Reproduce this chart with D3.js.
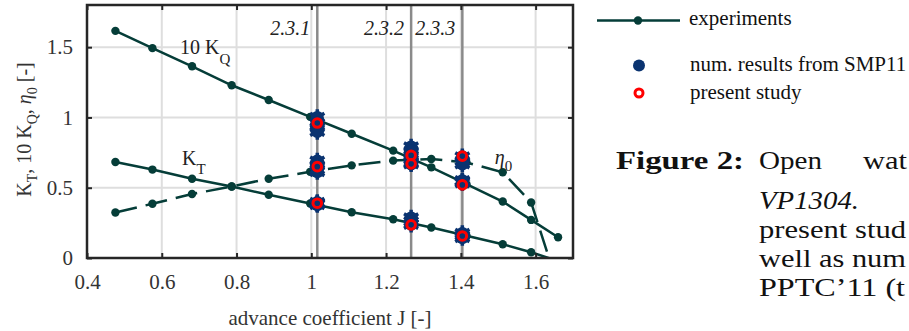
<!DOCTYPE html>
<html>
<head>
<meta charset="utf-8">
<script src="https://cdn.jsdelivr.net/npm/d3@7"></script>
<style>
  body { margin: 0; background: #fff; }
  svg { display: block; font-family: "Liberation Serif", "Times New Roman", serif; }
</style>
</head>
<body>
<div id="chart"></div>
<script>
// experiments (open water test)
const expJ    = [0.476, 0.575, 0.681, 0.787, 0.886, 0.997, 1.108, 1.219, 1.321, 1.415, 1.512, 1.588, 1.660];
const expKT   = [0.683, 0.629, 0.564, 0.509, 0.450, 0.388, 0.326, 0.276, 0.217, 0.158, 0.098, 0.041, -0.022];
const expKQ10 = [1.616, 1.493, 1.364, 1.229, 1.124, 1.004, 0.884, 0.764, 0.645, 0.525, 0.402, 0.271, 0.148];
const expEta  = [0.324, 0.386, 0.455, 0.509, 0.564, 0.613, 0.659, 0.693, 0.705, 0.680, 0.610, 0.395, -0.200];

// num. results from SMP11 (several participants per J)
const smpJ    = [1.016, 1.016, 1.016, 1.016, 1.267, 1.267, 1.267, 1.404, 1.404, 1.404];
const smpKT   = [0.395, 0.380, 0.385, 0.390, 0.285, 0.260, 0.240, 0.175, 0.160, 0.145];
const smpKQ10 = [1.000, 0.960, 0.930, 0.900, 0.790, 0.760, 0.730, 0.550, 0.535, 0.545];
const smpEta  = [0.690, 0.660, 0.630, 0.615, 0.700, 0.680, 0.670, 0.720, 0.690, 0.670];

// present study
const presJ    = [1.016, 1.267, 1.404];
const presKT   = [0.390, 0.236, 0.157];
const presKQ10 = [0.960, 0.730, 0.520];
const presEta  = [0.650, 0.670, 0.725];

// test cases marked in the plot
const caseJ      = [1.016, 1.267, 1.404];
const caseLabels = ["2.3.1", "2.3.2", "2.3.3"];

const xTicks = [0.4, 0.6, 0.8, 1, 1.2, 1.4, 1.6];
const yTicks = [0, 0.5, 1, 1.5];

const W = 909, H = 331;
const margin = { top: 5, left: 87, right: 336, bottom: 73 };
const width = W - margin.left - margin.right;
const height = H - margin.top - margin.bottom;

const expColor = "#053d38";
const smpColor = "#0a3370";
const presColor = "#ff0000";

const svg = d3.select("#chart").append("svg")
    .attr("width", W)
    .attr("height", H);

svg.append("defs").append("clipPath").attr("id", "plotclip")
    .append("rect").attr("width", width).attr("height", height);

const g = svg.append("g")
    .attr("transform", `translate(${margin.left},${margin.top})`);

const x = d3.scaleLinear().domain([0.4, 1.7]).range([0, width]);
const y = d3.scaleLinear().domain([0, 1.8]).range([height, 0]);

// grid
g.append("g").selectAll("line").data(xTicks.slice(1)).enter().append("line")
    .attr("x1", d => x(d)).attr("x2", d => x(d))
    .attr("y1", 0).attr("y2", height)
    .attr("stroke", "#dedede").attr("stroke-width", 2);
g.append("g").selectAll("line").data(yTicks.slice(1)).enter().append("line")
    .attr("x1", 0).attr("x2", width)
    .attr("y1", d => y(d)).attr("y2", d => y(d))
    .attr("stroke", "#dedede").attr("stroke-width", 2);

// test case lines
g.append("g").selectAll("line").data(caseJ).enter().append("line")
    .attr("x1", d => x(d)).attr("x2", d => x(d))
    .attr("y1", 0).attr("y2", height)
    .attr("stroke", "#8a8a8a").attr("stroke-width", 2.5);

g.append("g").selectAll("text").data(caseJ).enter().append("text")
    .attr("x", d => x(d) - 7)
    .attr("y", 30)
    .attr("text-anchor", "end")
    .attr("font-style", "italic")
    .attr("font-size", 20)
    .attr("fill", "#222")
    .text((d, i) => caseLabels[i]);

// experiment curves
const plot = g.append("g").attr("clip-path", "url(#plotclip)");

function expCurve(vals, dash) {
  const pts = expJ.map((j, i) => [j, vals[i]]);
  plot.append("path")
      .datum(pts)
      .attr("fill", "none")
      .attr("stroke", expColor)
      .attr("stroke-width", 2.5)
      .attr("stroke-dasharray", dash)
      .attr("d", d3.line().x(d => x(d[0])).y(d => y(d[1])));
  plot.append("g").selectAll("circle").data(pts).enter().append("circle")
      .attr("cx", d => x(d[0]))
      .attr("cy", d => y(d[1]))
      .attr("r", 4.2)
      .attr("fill", expColor);
}
expCurve(expKQ10, null);
expCurve(expKT, null);
expCurve(expEta, "22,9");

// SMP11 results: filled dots with a spiky outline, several overlapping
const spike = d3.symbol().type(d3.symbolAsterisk).size(190);
[smpKT, smpKQ10, smpEta].forEach(vals => {
  const grp = plot.append("g");
  grp.selectAll("path").data(vals).enter().append("path")
      .attr("transform", (d, i) => `translate(${x(smpJ[i])},${y(d)})`)
      .attr("d", spike)
      .attr("fill", "none")
      .attr("stroke", smpColor)
      .attr("stroke-width", 3.5);
  grp.selectAll("circle").data(vals).enter().append("circle")
      .attr("cx", (d, i) => x(smpJ[i]))
      .attr("cy", d => y(d))
      .attr("r", 6.5)
      .attr("fill", smpColor);
});

// present study
[presKT, presKQ10, presEta].forEach(vals => {
  plot.append("g").selectAll("circle").data(vals).enter().append("circle")
      .attr("cx", (d, i) => x(presJ[i]))
      .attr("cy", d => y(d))
      .attr("r", 4.3)
      .attr("fill", "none")
      .attr("stroke", presColor)
      .attr("stroke-width", 3);
});

// curve labels
const lab = g.append("g").attr("font-size", 20).attr("fill", "#222");
const kq = lab.append("text").attr("x", x(0.649)).attr("y", y(1.45));
kq.append("tspan").text("10 K");
kq.append("tspan").attr("dy", 10).attr("font-size", 15).text("Q");
const kt = lab.append("text").attr("x", x(0.654)).attr("y", y(0.664));
kt.append("tspan").text("K");
kt.append("tspan").attr("dy", 9).attr("font-size", 15).text("T");
const et = lab.append("text").attr("x", x(1.491)).attr("y", y(0.67));
et.append("tspan").attr("font-style", "italic").text("η");
et.append("tspan").attr("dy", 7).attr("font-size", 15).text("0");

// axes
const axisColor = "#262626";
const xAxis = g.append("g").attr("transform", `translate(0,${height})`)
    .call(d3.axisBottom(x).tickValues(xTicks).tickFormat(d3.format("")).tickSizeInner(-5).tickSizeOuter(0).tickPadding(16));
const yAxis = g.append("g")
    .call(d3.axisLeft(y).tickValues(yTicks).tickFormat(d3.format("")).tickSizeInner(-5).tickSizeOuter(0).tickPadding(14));
const xTop = g.append("g")
    .call(d3.axisTop(x).tickValues(xTicks).tickFormat("").tickSizeInner(-5).tickSizeOuter(0));
const yRight = g.append("g").attr("transform", `translate(${width},0)`)
    .call(d3.axisRight(y).tickValues(yTicks).tickFormat("").tickSizeInner(-5).tickSizeOuter(0));

[xAxis, yAxis, xTop, yRight].forEach(a => {
  a.select(".domain").remove();
  a.selectAll(".tick line").attr("stroke", axisColor).attr("stroke-width", 2);
  a.selectAll(".tick text").attr("font-family", "Liberation Serif, serif")
      .attr("font-size", 21).attr("fill", "#333");
});

g.append("rect")
    .attr("width", width).attr("height", height)
    .attr("fill", "none").attr("stroke", axisColor).attr("stroke-width", 2.5);

// axis titles
svg.append("text")
    .attr("x", margin.left + width / 2)
    .attr("y", 325)
    .attr("text-anchor", "middle")
    .attr("font-size", 21).attr("fill", "#333")
    .text("advance coefficient J [-]");

const yl = svg.append("text")
    .attr("transform", `translate(31,${margin.top + height / 2 - 2}) rotate(-90)`)
    .attr("text-anchor", "middle")
    .attr("font-size", 20).attr("fill", "#333");
yl.append("tspan").text("K");
yl.append("tspan").attr("dy", 6).attr("font-size", 14).text("T");
yl.append("tspan").attr("dy", -6).text(", 10 K");
yl.append("tspan").attr("dy", 6).attr("font-size", 14).text("Q");
yl.append("tspan").attr("dy", -6).text(", ");
yl.append("tspan").attr("font-style", "italic").text("η");
yl.append("tspan").attr("dy", 6).attr("font-size", 14).text("0");
yl.append("tspan").attr("dy", -6).text(" [-]");

// legend
const leg = svg.append("g").attr("font-size", 21).attr("fill", "#111");
leg.append("line").attr("x1", 597).attr("x2", 680).attr("y1", 20.5).attr("y2", 20.5)
    .attr("stroke", expColor).attr("stroke-width", 2.5);
leg.append("circle").attr("cx", 638).attr("cy", 20.5).attr("r", 4.2).attr("fill", expColor);
leg.append("text").attr("x", 689).attr("y", 25).text("experiments");
leg.append("circle").attr("cx", 639).attr("cy", 65.5).attr("r", 6).attr("fill", smpColor);
leg.append("text").attr("x", 690).attr("y", 71).text("num. results from SMP11");
leg.append("circle").attr("cx", 639).attr("cy", 93).attr("r", 4).attr("fill", "#fff")
    .attr("stroke", presColor).attr("stroke-width", 3);
leg.append("text").attr("x", 690).attr("y", 99).text("present study");

// figure caption, as far as it is visible at the page edge
const cap = svg.append("g").attr("font-size", 26).attr("fill", "#111");
function capText(str, x0, y0, len, style) {
  const t = cap.append("text").attr("x", x0).attr("y", y0)
      .attr("textLength", len).attr("lengthAdjust", "spacingAndGlyphs").text(str);
  if (style === "bold") t.attr("font-weight", "bold");
  if (style === "italic") t.attr("font-style", "italic");
}
capText("Figure 2:", 616, 169, 128, "bold");
capText("Open", 759, 169, 63);
capText("wat", 863, 169, 44);
capText("VP1304.", 759, 209, 100, "italic");
capText("present stud", 759, 238, 147);
capText("well as num", 759, 267, 147);
capText("PPTC’11 (t", 759, 296, 146);
</script>
</body>
</html>
